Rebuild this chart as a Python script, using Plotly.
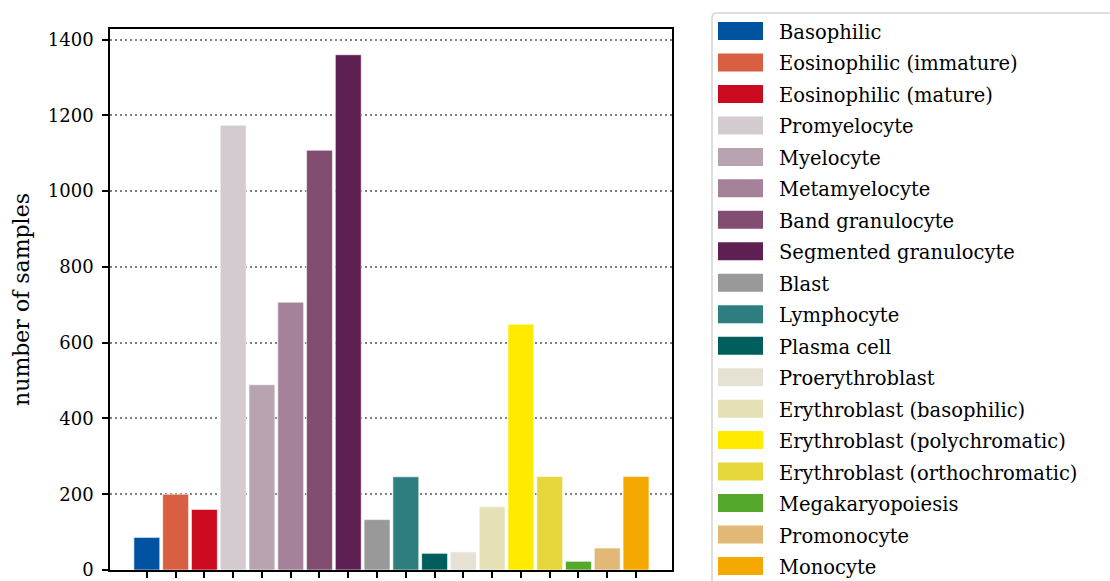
import plotly.graph_objects as go

# Cell classes, sample counts and bar colours
categories = [
    "Basophilic", "Eosinophilic (immature)", "Eosinophilic (mature)",
    "Promyelocyte", "Myelocyte", "Metamyelocyte", "Band granulocyte",
    "Segmented granulocyte", "Blast", "Lymphocyte", "Plasma cell",
    "Proerythroblast", "Erythroblast (basophilic)",
    "Erythroblast (polychromatic)", "Erythroblast (orthochromatic)",
    "Megakaryopoiesis", "Promonocyte", "Monocyte",
]
counts = [86, 200, 160, 1174, 489, 707, 1108, 1360, 133, 246, 44, 48,
          167, 649, 247, 23, 58, 247]
colors = [
    "#0053a0", "#d95f43", "#cb0a20", "#d4cbd1", "#b8a4b0", "#a58299",
    "#814e72", "#5e1f52", "#999999", "#2e7d7f", "#005f5d", "#e5e2d4",
    "#e5e1b7", "#ffea00", "#e6d73c", "#55a82c", "#e2b877", "#f5a800",
]
y_ticks = [0, 200, 400, 600, 800, 1000, 1200, 1400]

W, H = 1110, 581
L, R, T, B = 110, 672, 29, 570  # plot-area edges in pixels
FONT = "DejaVu Serif"
TICK_FS = 18
LEGEND_FS = 19.5
TITLE_FS = 22

fig = go.Figure()
fig.add_trace(go.Bar(
    x=categories, y=counts, width=0.9,
    marker=dict(color=colors, line=dict(color="rgba(255,255,255,0.6)", width=1)),
    showlegend=False,
))


def px(x):
    return (x - L) / (R - L)


def py(y):
    return (B - y) / (B - T)


shapes = []
annotations = []

# Legend frame (extends past the figure edge)
x0, y0, x1, y1, r = 712, 13, 1125, 600, 5
shapes.append(dict(
    type="path", xref="paper", yref="paper",
    path=(f"M {px(x0)},{py(y0 + r)} Q {px(x0)},{py(y0)} {px(x0 + r)},{py(y0)} "
          f"L {px(x1)},{py(y0)} L {px(x1)},{py(y1)} L {px(x0)},{py(y1)} Z"),
    line=dict(color="#d3d3d3", width=1.5), fillcolor="white", layer="below",
))

# Legend entries
row0, step = 31, 31.47
for i, (name, col) in enumerate(zip(categories, colors)):
    yc = row0 + i * step
    shapes.append(dict(
        type="rect", xref="paper", yref="paper",
        x0=px(718), x1=px(763), y0=py(yc + 9), y1=py(yc - 9),
        fillcolor=col, line=dict(width=0),
    ))
    annotations.append(dict(
        xref="paper", yref="paper", x=px(777), y=py(yc + 1.5),
        text=name, showarrow=False, xanchor="left", yanchor="middle",
        font=dict(family=FONT, size=LEGEND_FS, color="black"),
    ))

fig.update_layout(
    width=W, height=H,
    margin=dict(l=L, r=W - R, t=T, b=H - B, pad=0, autoexpand=False),
    paper_bgcolor="white", plot_bgcolor="white",
    font=dict(family=FONT, size=TICK_FS, color="black"),
    shapes=shapes, annotations=annotations,
    showlegend=False,
)
fig.update_xaxes(
    range=[-1.28, 18.25], showticklabels=False, ticks="outside",
    ticklen=6, tickwidth=1.5, tickcolor="black", automargin=False,
    showline=True, linecolor="black", linewidth=1.5, mirror=True,
    showgrid=False, zeroline=False,
)
fig.update_yaxes(
    range=[0, 1428], tickvals=y_ticks, ticks="outside",
    ticklen=6, tickwidth=1.5, tickcolor="black", automargin=False,
    showline=True, linecolor="black", linewidth=1.5, mirror=True,
    showgrid=True, gridcolor="#808080", griddash="1.5px,3.5px", gridwidth=1.5,
    zeroline=False, ticklabelstandoff=5,
    title=dict(text="number of samples", standoff=12,
               font=dict(family=FONT, size=TITLE_FS)),
    tickfont=dict(family=FONT, size=TICK_FS),
)

fig.write_html("out.html")
